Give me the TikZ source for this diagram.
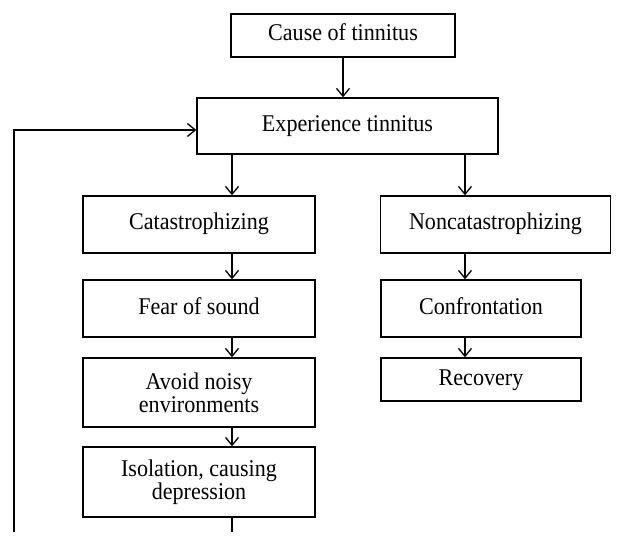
\documentclass[tikz,border=0pt]{standalone}
\usepackage{fontspec}
\setmainfont{Liberation Serif}[FakeStretch=0.92]
\usetikzlibrary{arrows.meta, positioning}

\begin{document}
\begin{tikzpicture}[x=1pt, y=-1pt,
    box/.style={rectangle, draw, line width=1.3pt, minimum width=232pt, minimum height=57pt, align=center, inner sep=0pt, font=\fontsize{24}{23.3}\selectfont},
    oneline/.style={box, text height=16pt, text depth=5pt},
    arrow/.style={-{Straight Barb[length=8pt, width=13pt]}, line width=1.3pt}
]
\useasboundingbox (0,0) rectangle (626,545);

\node[oneline, minimum width=224pt, minimum height=43pt] (cause) at (343,35.5) {Cause of tinnitus};
\node[oneline, minimum width=301pt, minimum height=56pt] (exper) at (347.5,126) {Experience tinnitus};

\node[oneline] (catas) at (199,224.5) {Catastrophizing};
\node[oneline] (fear) at (199,308.5) {Fear of sound};
\node[box, minimum height=69pt] (avoid) at (199,392.5) {Avoid noisy\\environments};
\node[box, minimum height=70pt] (isol) at (199,482) {Isolation, causing\\depression};

\node[oneline, minimum width=230pt] (noncat) at (495.5,224.5) {Noncatastrophizing};
\node[oneline, minimum width=200pt] (confr) at (481,308.5) {Confrontation};
\node[oneline, minimum width=200pt, minimum height=43pt] (recov) at (481,379.5) {Recovery};

\coordinate (lcol) at (232,0);
\coordinate (rcol) at (465,0);
\coordinate (loopend) at (232,532);
\coordinate (loopstart) at (14,532);

\draw[arrow] (cause.south) -- (cause.south |- exper.north);
\draw[arrow] (exper.south -| lcol) -- (catas.north -| lcol);
\draw[arrow] (exper.south -| rcol) -- (noncat.north -| rcol);
\draw[arrow] (catas.south -| lcol) -- (fear.north -| lcol);
\draw[arrow] (fear.south -| lcol) -- (avoid.north -| lcol);
\draw[arrow] (avoid.south -| lcol) -- (isol.north -| lcol);
\draw[arrow] (noncat.south -| rcol) -- (confr.north -| rcol);
\draw[arrow] (confr.south -| rcol) -- (recov.north -| rcol);

% feedback loop, cut off at the bottom
\draw[line width=1.3pt] (isol.south -| lcol) -- (loopend);
\draw[arrow] (loopstart) |- ([yshift=-4pt]exper.west);

\end{tikzpicture}
\end{document}
